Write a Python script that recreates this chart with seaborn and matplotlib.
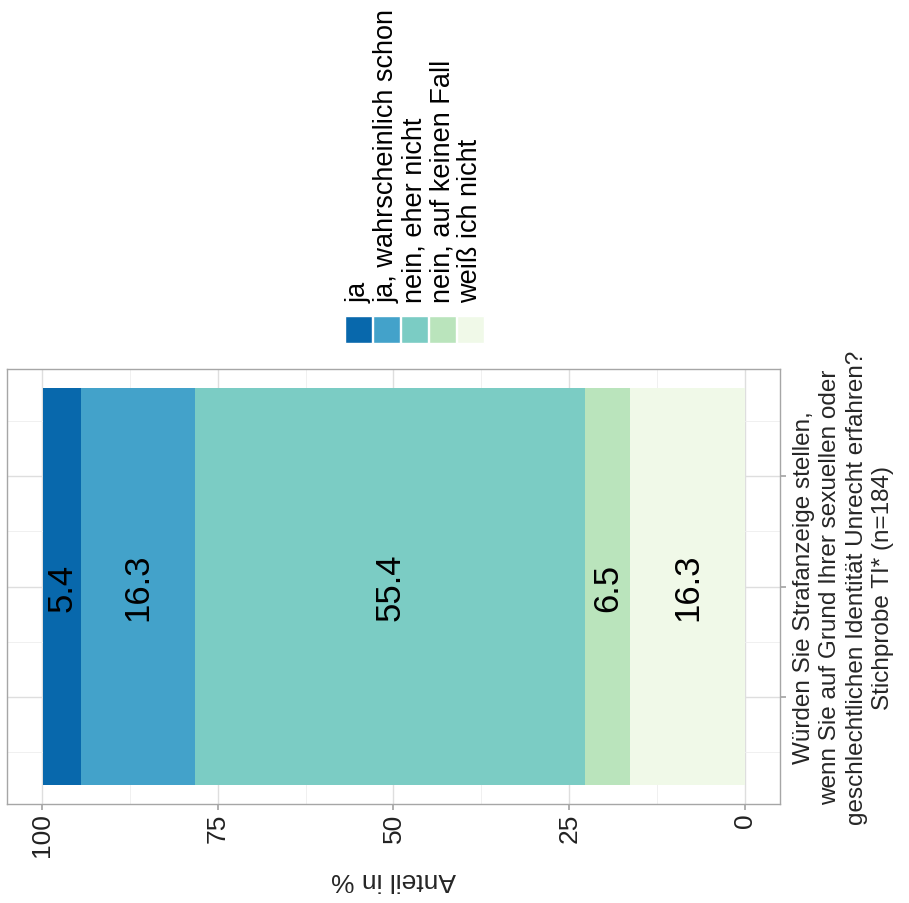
import numpy as np
import pandas as pd
import matplotlib.pyplot as plt
import seaborn as sns
from matplotlib.patches import Rectangle

# data
answers = ["ja", "ja, wahrscheinlich schon", "nein, eher nicht",
           "nein, auf keinen Fall", "weiß ich nicht"]
shares = [5.4, 16.3, 55.4, 6.5, 16.3]
colors = ["#0868AC", "#43A2CA", "#7BCCC4", "#BAE4BC", "#F0F9E8"]
question = ("Würden Sie Strafanzeige stellen,\n"
            "wenn Sie auf Grund Ihrer sexuellen oder\n"
            "geschlechtlichen Identität Unrecht erfahren?\n"
            "Stichprobe TI* (n=184)")
value_ticks = [0, 25, 50, 75, 100]

sns.set_theme(style="white")
plt.rcParams['font.family'] = ['Liberation Sans', 'DejaVu Sans']

df = pd.DataFrame({"answer": answers, "share": shares, "color": colors})
# stack from the right (0) towards the left (100): last answer sits at 0
df["cum"] = df["share"][::-1].cumsum()[::-1]
df["mid"] = df["cum"] - df["share"] / 2
df["cat"] = "q"

fig = plt.figure(figsize=(9.09, 9.04), dpi=100)
ax = fig.add_axes([7 / 909, 1 - 805 / 904, 773 / 909, 435 / 904])

# overlay cumulative bars, biggest first
for _, row in df.iterrows():
    sns.barplot(x=[row["cum"]], y=[row["cat"]], orient="h", color=row["color"],
                width=0.9, saturation=1, ax=ax, edgecolor="none", linewidth=0)

for _, row in df.iterrows():
    ax.text(row["mid"], 0, f"{row['share']:.1f}", rotation=90, rotation_mode="anchor",
            ha="center", va="center", fontsize=25, color="black")

ax.set_xlim(105, -5)
ax.set_ylim(-0.494, 0.494)
ax.set_xticks(value_ticks)
ax.set_xticklabels([str(v) for v in value_ticks])
ax.set_xticks([12.5, 37.5, 62.5, 87.5], minor=True)
ax.set_yticks([-0.25, 0, 0.25])
ax.set_yticklabels([])
ax.set_yticks([-0.375, -0.125, 0.125, 0.375], minor=True)
ax.grid(True, which="major", color="#DEDEDE", linewidth=1.0)
ax.grid(True, which="minor", color="#EEEEEE", linewidth=0.6)
ax.set_axisbelow(True)
for s in ax.spines.values():
    s.set_color("#A6A6A6")
    s.set_linewidth(1.0)

ax.yaxis.tick_right()
ax.yaxis.set_label_position("right")
ax.tick_params(axis="x", which="major", bottom=True, length=4, color="#A6A6A6",
               labelrotation=90, labelsize=19, labelcolor="#222222", pad=2)
ax.tick_params(axis="y", which="major", right=True, left=False, length=4, color="#A6A6A6")
ax.tick_params(which="minor", length=0)

ax.set_xlabel("Anteil in %", rotation=180, fontsize=19, labelpad=8)
ax.set_ylabel(question, rotation=90, fontsize=17.5, labelpad=2,
              multialignment="center", linespacing=1.25)

# legend (keys side by side, labels rotated)
lax = fig.add_axes([0, 0, 1, 1], facecolor="none")
lax.set_xlim(0, 909)
lax.set_ylim(904, 0)
lax.axis("off")
for i, row in df.iterrows():
    x0 = 345 + i * 28
    lax.add_patch(Rectangle((x0, 317), 27, 27, facecolor=row["color"], edgecolor="white", lw=1))
    lax.text(x0 + 13.5, 303, row["answer"], rotation=90, rotation_mode="anchor",
             ha="left", va="center", fontsize=19.5, color="black")

fig.savefig("out.png", dpi=100)
